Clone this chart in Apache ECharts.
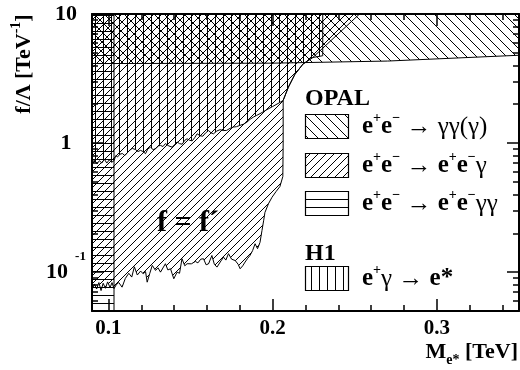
<!DOCTYPE html>
<html>
<head>
<meta charset="utf-8">
<script src="https://cdn.jsdelivr.net/npm/echarts@6/dist/echarts.min.js"></script>
<style>
  html, body { margin: 0; padding: 0; background: #fff; }
  #chart { width: 520px; height: 370px; }
</style>
</head>
<body>
<div id="chart"></div>
<script>
// Excited-electron search limits: coupling f/Λ versus mass M_e*

const xRange = [0.09, 0.35];
const yRange = [0.05, 10];
const xMajorTicks = [0.1, 0.2, 0.3];
const xMinorTicks = [0.12, 0.14, 0.16, 0.18, 0.22, 0.24, 0.26, 0.28, 0.32, 0.34];
const yMajorTicks = [0.1, 1, 10];
const yMinorTicks = [0.06, 0.07, 0.08, 0.09, 0.2, 0.3, 0.4, 0.5, 0.6, 0.7, 0.8, 0.9, 2, 3, 4, 5, 6, 7, 8, 9];

// OPAL e+e- -> γγ(γ): excluded above this line
const ggMass     = [0.09, 0.20, 0.27, 0.35];
const ggCoupling = [4.13, 4.16, 4.32, 4.79];

// OPAL e+e- -> e+e-γγ: excluded mass band (all couplings)
const eeggMass = [0.09, 0.1034];

// OPAL e+e- -> e+e-γ (f = f'): lower/right edge of the excluded region
const eegMass = [
  0.0900, 0.0915, 0.0928, 0.0942, 0.0955, 0.0968, 0.0982, 0.0995, 0.1010, 0.1022,
  0.1034, 0.1048, 0.1063, 0.1083, 0.1103, 0.1124, 0.1142, 0.1158, 0.1176, 0.1196,
  0.1212, 0.1226, 0.1236, 0.1252, 0.1267, 0.1287, 0.1302, 0.1317, 0.1347, 0.1362,
  0.1378, 0.1398, 0.1418, 0.1433, 0.1448, 0.1465, 0.1479, 0.1505, 0.1529, 0.1545,
  0.1562, 0.1579, 0.1595, 0.1610, 0.1630, 0.1645, 0.1661, 0.1685, 0.1701, 0.1715,
  0.1731, 0.1750, 0.1772, 0.1790, 0.1802, 0.1818, 0.1832, 0.1848, 0.1862, 0.1878,
  0.1893, 0.1908, 0.1923, 0.1935, 0.1945, 0.1953, 0.1975, 0.1996, 0.2020, 0.2044,
  0.2062, 0.2064, 0.2064, 0.2095, 0.2135, 0.2185, 0.2244, 0.2529
];
const eegCoupling = [
  0.073, 0.081, 0.074, 0.083, 0.072, 0.082, 0.075, 0.084, 0.076, 0.083,
  0.0745, 0.080, 0.0831, 0.0765, 0.0894, 0.098, 0.0916, 0.110, 0.095, 0.102,
  0.097, 0.101, 0.0836, 0.098, 0.1128, 0.1031, 0.108, 0.100, 0.1162, 0.104,
  0.1062, 0.0889, 0.100, 0.098, 0.127, 0.112, 0.1162, 0.116, 0.121, 0.118,
  0.126, 0.127, 0.114, 0.1162, 0.1346, 0.115, 0.1094, 0.122, 0.1306, 0.124,
  0.139, 0.126, 0.123, 0.115, 0.1062, 0.112, 0.1197, 0.128, 0.1346, 0.147,
  0.166, 0.152, 0.170, 0.21, 0.25, 0.29, 0.34, 0.38, 0.42, 0.46,
  0.55, 1.0, 2.14, 2.7, 3.4, 4.1, 4.6, 10
];

// H1 e+γ -> e*: lower/right edge of the excluded region
const h1Mass = [
  0.0900, 0.0915, 0.0930, 0.0945, 0.0960, 0.0975, 0.0990, 0.1005, 0.1020, 0.1034,
  0.1045, 0.1055, 0.1070, 0.1085, 0.1100, 0.1125, 0.1145, 0.1165, 0.1180, 0.1196,
  0.1210, 0.1226, 0.1240, 0.1256, 0.1272, 0.1287, 0.1305, 0.1317, 0.1332, 0.1347,
  0.1368, 0.1388, 0.1405, 0.1418, 0.1433, 0.1449, 0.1465, 0.1479, 0.1495, 0.1510,
  0.1525, 0.1540, 0.1558, 0.1575, 0.1592, 0.1610, 0.1625, 0.1640, 0.1660, 0.1680,
  0.1700, 0.1720, 0.1740, 0.1761, 0.1780, 0.1800, 0.1822, 0.1843, 0.1863, 0.1883,
  0.1903, 0.1923, 0.1960, 0.2000, 0.2040, 0.2064, 0.2095, 0.2135, 0.2185, 0.2244,
  0.2305, 0.2305
];
const h1Coupling = [
  0.70, 0.74, 0.69, 0.73, 0.70, 0.75, 0.70, 0.74, 0.71, 0.73,
  0.80, 0.78, 0.82, 0.83, 0.80, 0.87, 0.91, 0.89, 0.86, 0.878,
  0.86, 0.828, 0.90, 0.93, 0.89, 0.905, 0.95, 0.96, 0.94, 0.99,
  0.95, 0.93, 0.98, 1.02, 0.99, 0.98, 1.05, 1.08, 1.05, 1.04,
  1.10, 1.18, 1.14, 1.13, 1.20, 1.25, 1.20, 1.18, 1.24, 1.27,
  1.25, 1.254, 1.30, 1.33, 1.34, 1.37, 1.40, 1.45, 1.53, 1.59,
  1.64, 1.69, 1.80, 1.92, 2.05, 2.14, 2.7, 3.4, 4.1, 4.6,
  4.75, 10
];

const serif = '"Liberation Serif", "Times New Roman", serif';

// Line-hatch fill patterns: 'f' = /, 'b' = \, 'v' = |, 'h' = -
function hatch(kind, step) {
  const c = document.createElement('canvas');
  c.width = step; c.height = step;
  const g = c.getContext('2d');
  g.strokeStyle = '#000';
  g.lineWidth = 1;
  g.beginPath();
  if (kind === 'h') {
    g.moveTo(0, step - 0.5); g.lineTo(step, step - 0.5);
  } else if (kind === 'v') {
    g.moveTo(step - 0.5, 0); g.lineTo(step - 0.5, step);
  } else if (kind === 'f') {
    g.moveTo(-1, step + 1); g.lineTo(step + 1, -1);
    g.moveTo(-1, 1); g.lineTo(1, -1);
    g.moveTo(step - 1, step + 1); g.lineTo(step + 1, step - 1);
  } else {
    g.moveTo(-1, -1); g.lineTo(step + 1, step + 1);
    g.moveTo(step - 1, -1); g.lineTo(step + 1, 1);
    g.moveTo(-1, step - 1); g.lineTo(1, step + 1);
  }
  g.stroke();
  return { image: c, repeat: 'repeat' };
}

const patGG = hatch('b', 10);
const patEEG = hatch('f', 8);
const patEEGG = hatch('h', 8);
const patH1 = hatch('v', 8);

function zip(xs, ys) { return xs.map((x, i) => [x, ys[i]]); }

const ggPoly = zip(ggMass, ggCoupling).concat([[xRange[1], yRange[1]], [xRange[0], yRange[1]]]);
const eeggPoly = [[eeggMass[0], yRange[0]], [eeggMass[1], yRange[0]], [eeggMass[1], yRange[1]], [eeggMass[0], yRange[1]]];
const eegPoly = zip(eegMass, eegCoupling).concat([[xRange[0], yRange[1]]]);
const h1Poly = zip(h1Mass, h1Coupling).concat([[xRange[0], yRange[1]]]);

function regionSeries(name, pts, fill) {
  return {
    type: 'custom',
    name: name,
    coordinateSystem: 'cartesian2d',
    xAxisIndex: 0,
    yAxisIndex: 0,
    silent: true,
    clip: true,
    z: 2,
    data: [pts[0]],
    renderItem: function (params, api) {
      return {
        type: 'polygon',
        shape: { points: pts.map(p => api.coord(p)) },
        style: { fill: fill, stroke: '#000', lineWidth: 1 }
      };
    }
  };
}

function xAxisDef(pos, ticks, len, withLine, withLabels) {
  return {
    type: 'value', position: pos, min: xRange[0], max: xRange[1],
    axisLine: { show: withLine, onZero: false, lineStyle: { color: '#000', width: 2 } },
    axisTick: { show: true, inside: true, length: len, customValues: ticks, lineStyle: { color: '#000', width: 1.5 } },
    axisLabel: withLabels ? {
      show: true, customValues: ticks, margin: 7, color: '#000',
      fontFamily: serif, fontWeight: 'bold', fontSize: 21,
      formatter: v => String(v)
    } : { show: false },
    splitLine: { show: false }
  };
}

function yAxisDef(pos, ticks, len, withLine, withLabels) {
  return {
    type: 'log', logBase: 10, position: pos, min: yRange[0], max: yRange[1],
    axisLine: { show: withLine, onZero: false, lineStyle: { color: '#000', width: 2 } },
    axisTick: { show: true, inside: true, length: len, customValues: ticks, lineStyle: { color: '#000', width: 1.5 } },
    axisLabel: withLabels ? {
      show: true, customValues: ticks, margin: 26, align: 'center', color: '#000',
      formatter: v => (v < 0.5 ? '{n|10}{s|-1}' : '{n|' + (v > 5 ? '10' : '1') + '}'),
      rich: {
        n: { fontFamily: serif, fontWeight: 'bold', fontSize: 22, lineHeight: 44, color: '#000' },
        s: { fontFamily: serif, fontWeight: 'bold', fontSize: 13, lineHeight: 13, verticalAlign: 'top', padding: [0, 0, 0, 7], color: '#000' }
      }
    } : { show: false },
    splitLine: { show: false }
  };
}

const legendRich = {
  b: { fontFamily: serif, fontWeight: 'bold', fontSize: 25, lineHeight: 32, color: '#000' },
  s: { fontFamily: serif, fontWeight: 'bold', fontSize: 14, lineHeight: 14, verticalAlign: 'top', color: '#000' },
  g: { fontFamily: serif, fontSize: 25, lineHeight: 32, color: '#000' }
};

function legendBox(y, fill) {
  return { type: 'rect', shape: { x: 305.5, y: y, width: 43, height: 24 }, style: { fill: fill, stroke: '#000', lineWidth: 1.2 }, z: 10 };
}
function legendText(y, text) {
  return { type: 'text', x: 362, y: y, z: 10, style: { text: text, rich: legendRich, align: 'left', verticalAlign: 'middle' } };
}

const option = {
  animation: false,
  backgroundColor: '#fff',
  grid: { left: 92, right: 1, top: 14, bottom: 59 },
  xAxis: [
    xAxisDef('bottom', xMajorTicks, 12, true, true),
    xAxisDef('bottom', xMinorTicks, 6, false, false),
    xAxisDef('top', xMajorTicks, 12, true, false),
    xAxisDef('top', xMinorTicks, 6, false, false)
  ],
  yAxis: [
    yAxisDef('left', yMajorTicks, 12, true, true),
    yAxisDef('left', yMinorTicks, 6, false, false),
    yAxisDef('right', yMajorTicks, 12, true, false),
    yAxisDef('right', yMinorTicks, 6, false, false)
  ],
  series: [
    regionSeries('e+e- → γγ(γ)', ggPoly, patGG),
    regionSeries('e+e- → e+e-γ', eegPoly, patEEG),
    regionSeries('e+e- → e+e-γγ', eeggPoly, patEEGG),
    regionSeries('e+γ → e*', h1Poly, patH1)
  ],
  graphic: [
    // axis titles
    {
      type: 'text', x: 24, y: 64, rotation: Math.PI / 2, z: 10,
      style: {
        text: '{b|f/Λ [TeV}{s|-1}{b|]}', align: 'center', verticalAlign: 'middle',
        rich: {
          b: { fontFamily: serif, fontWeight: 'bold', fontSize: 22, lineHeight: 30, color: '#000' },
          s: { fontFamily: serif, fontWeight: 'bold', fontSize: 14, lineHeight: 14, verticalAlign: 'top', color: '#000' }
        }
      }
    },
    {
      type: 'text', x: 518, y: 352, z: 10,
      style: {
        text: '{b|M}{u|e*}{b| [TeV]}', align: 'right', verticalAlign: 'middle',
        rich: {
          b: { fontFamily: serif, fontWeight: 'bold', fontSize: 22, lineHeight: 31, color: '#000' },
          u: { fontFamily: serif, fontWeight: 'bold', fontSize: 14, lineHeight: 14, verticalAlign: 'bottom', color: '#000' }
        }
      }
    },
    // region label
    {
      type: 'text', x: 188, y: 223, z: 10,
      style: { text: 'f = f´', font: 'bold 30px ' + serif, fill: '#000', align: 'center', verticalAlign: 'middle' }
    },
    // legend
    { type: 'text', x: 305, y: 99, z: 10, style: { text: 'OPAL', font: 'bold 24px ' + serif, fill: '#000', align: 'left', verticalAlign: 'middle' } },
    legendBox(114.5, patGG),
    legendText(127, '{b|e}{s|+}{b|e}{s|−}{g| → γγ(γ)}'),
    legendBox(153.5, patEEG),
    legendText(166, '{b|e}{s|+}{b|e}{s|−}{g| → }{b|e}{s|+}{b|e}{s|−}{g|γ}'),
    legendBox(191.5, patEEGG),
    legendText(204, '{b|e}{s|+}{b|e}{s|−}{g| → }{b|e}{s|+}{b|e}{s|−}{g|γγ}'),
    { type: 'text', x: 305, y: 254, z: 10, style: { text: 'H1', font: 'bold 24px ' + serif, fill: '#000', align: 'left', verticalAlign: 'middle' } },
    legendBox(266.5, patH1),
    legendText(279, '{b|e}{s|+}{g|γ → }{b|e*}')
  ]
};

const chart = echarts.init(document.getElementById('chart'), null, { renderer: 'canvas' });
chart.setOption(option);
</script>
</body>
</html>
